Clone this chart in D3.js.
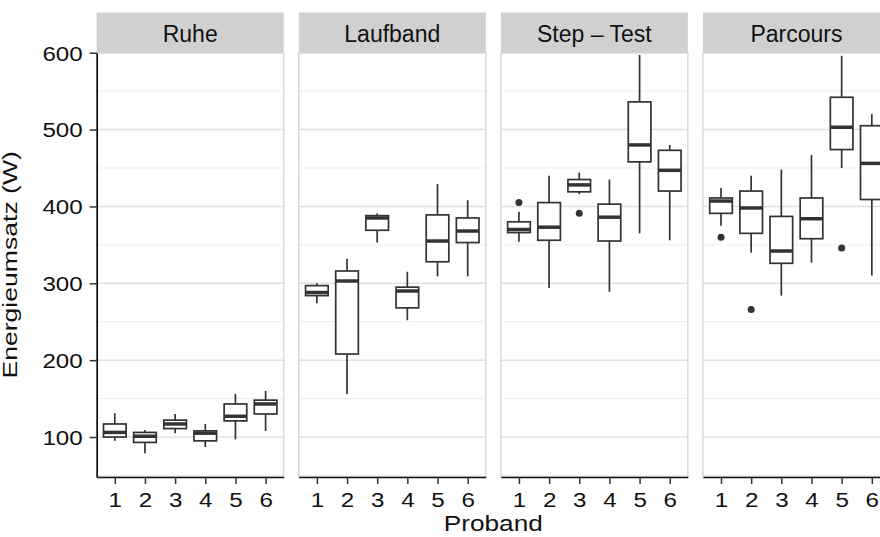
<!DOCTYPE html>
<html>
<head>
<meta charset="utf-8">
<script src="https://cdn.jsdelivr.net/npm/d3@7"></script>
<style>
  body { margin: 0; background: #fff; }
  text { font-family: "Liberation Sans", Arial, sans-serif; fill: #111; }
</style>
</head>
<body>
<svg id="chart" width="880" height="537"></svg>
<script>
const conditions = ["Ruhe", "Laufband", "Step – Test", "Parcours"];
const probands = ["1", "2", "3", "4", "5", "6"];

// [lower whisker, Q1, median, Q3, upper whisker] for each proband
const ruhe = [
  [95, 100, 106, 117, 131],
  [79, 93, 101, 106, 109],
  [105, 111, 117, 122, 130],
  [87, 95, 105, 108, 117],
  [97, 121, 127, 143, 156],
  [108, 130, 143, 148, 160],
];
const laufband = [
  [274, 284, 288, 297, 300],
  [156, 208, 303, 316, 332],
  [353, 369, 385, 388, 391],
  [252, 268, 290, 295, 315],
  [309, 328, 355, 389, 429],
  [309, 353, 368, 385, 408],
];
const stepTest = [
  [354, 366, 370, 380, 393],
  [294, 356, 373, 405, 440],
  [416, 419, 428, 435, 444],
  [289, 355, 386, 403, 435],
  [365, 458, 480, 536, 597],
  [356, 420, 447, 473, 480],
];
const parcours = [
  [375, 391, 407, 411, 424],
  [340, 365, 398, 420, 440],
  [284, 326, 342, 387, 448],
  [327, 358, 384, 411, 467],
  [450, 474, 503, 542, 596],
  [310, 409, 456, 505, 520],
];
const outliers = [
  { condition: "Step – Test", proband: "1", value: 405 },
  { condition: "Step – Test", proband: "3", value: 391 },
  { condition: "Parcours", proband: "1", value: 360 },
  { condition: "Parcours", proband: "2", value: 266 },
  { condition: "Parcours", proband: "5", value: 346 },
];
const yTicks = [100, 200, 300, 400, 500, 600];
const yMinor = [50, 150, 250, 350, 450, 550];

const stats = [ruhe, laufband, stepTest, parcours];

const svg = d3.select("#chart"),
  left0 = 96.7,
  panelWidth = 187,
  panelStep = 202.07,
  panelTop = 52.7,
  panelBottom = 477,
  stripTop = 12.5,
  ink = "#333333";

const y = d3.scaleLinear().domain([48, 600]).range([panelBottom, panelTop]);
const x = d3.scalePoint().domain(probands).range([0, panelWidth]).padding(0.6);
const boxWidth = x.step() * 0.75;

conditions.forEach((cond, i) => {
  const g = svg.append("g").attr("transform", `translate(${left0 + i * panelStep},0)`);

  g.append("rect")
    .attr("y", panelTop)
    .attr("width", panelWidth)
    .attr("height", panelBottom - panelTop)
    .attr("fill", "#fff");

  // grid
  g.selectAll(".minor")
    .data(yMinor)
    .enter()
    .append("line")
    .attr("x2", panelWidth)
    .attr("y1", (d) => y(d))
    .attr("y2", (d) => y(d))
    .attr("stroke", "#eeeeee")
    .attr("stroke-width", 1);
  g.selectAll(".major")
    .data(yTicks)
    .enter()
    .append("line")
    .attr("x2", panelWidth)
    .attr("y1", (d) => y(d))
    .attr("y2", (d) => y(d))
    .attr("stroke", "#e0e0e0")
    .attr("stroke-width", 1.5);

  // panel border
  g.append("rect")
    .attr("y", panelTop)
    .attr("width", panelWidth)
    .attr("height", panelBottom - panelTop)
    .attr("fill", "none")
    .attr("stroke", "#d9d9d9")
    .attr("stroke-width", 1.5);

  // strip
  g.append("rect")
    .attr("y", stripTop)
    .attr("width", panelWidth)
    .attr("height", panelTop - stripTop)
    .attr("fill", "#d0d0d0");
  g.append("text")
    .attr("x", panelWidth / 2)
    .attr("y", 41.5)
    .attr("text-anchor", "middle")
    .attr("font-size", 23)
    .text(cond);

  // boxes
  const box = g.selectAll(".box")
    .data(stats[i].map((s, j) => ({ p: probands[j], s })))
    .enter()
    .append("g")
    .attr("transform", (d) => `translate(${x(d.p)},0)`);

  box.append("line")
    .attr("y1", (d) => y(d.s[0]))
    .attr("y2", (d) => y(d.s[1]))
    .attr("stroke", ink)
    .attr("stroke-width", 1.7);
  box.append("line")
    .attr("y1", (d) => y(d.s[3]))
    .attr("y2", (d) => y(d.s[4]))
    .attr("stroke", ink)
    .attr("stroke-width", 1.7);
  box.append("rect")
    .attr("x", -boxWidth / 2)
    .attr("width", boxWidth)
    .attr("y", (d) => y(d.s[3]))
    .attr("height", (d) => y(d.s[1]) - y(d.s[3]))
    .attr("fill", "#fff")
    .attr("stroke", ink)
    .attr("stroke-width", 1.7);
  box.append("line")
    .attr("x1", -boxWidth / 2)
    .attr("x2", boxWidth / 2)
    .attr("y1", (d) => y(d.s[2]))
    .attr("y2", (d) => y(d.s[2]))
    .attr("stroke", ink)
    .attr("stroke-width", 3.5);

  g.selectAll(".out")
    .data(outliers.filter((o) => o.condition === cond))
    .enter()
    .append("circle")
    .attr("cx", (d) => x(d.proband))
    .attr("cy", (d) => y(d.value))
    .attr("r", 3.5)
    .attr("fill", ink);

  // x axis
  const xa = g.append("g")
    .attr("transform", `translate(0,${panelBottom})`)
    .call(d3.axisBottom(x).tickSize(7).tickSizeOuter(0));
  xa.select(".domain").attr("stroke", "#111").attr("stroke-width", 1.7);
  xa.selectAll(".tick line").attr("stroke", ink).attr("stroke-width", 1.5);
  xa.selectAll("text")
    .attr("y", 0)
    .attr("dy", null)
    .attr("font-size", 21)
    .attr("font-family", null)
    .attr("fill", null)
    .attr("transform", "translate(0,30) scale(1.15,1)");
});

// y axis on the first panel
const ya = svg.append("g")
  .attr("transform", `translate(${left0},0)`)
  .call(d3.axisLeft(y).tickValues(yTicks).tickSize(7).tickSizeOuter(0));
ya.select(".domain").attr("stroke", "#111").attr("stroke-width", 1.7);
ya.selectAll(".tick line").attr("stroke", ink).attr("stroke-width", 1.5);
ya.selectAll("text")
  .attr("x", 0)
  .attr("dy", "0.35em")
  .attr("font-size", 21)
  .attr("font-family", null)
  .attr("fill", null)
  .attr("transform", "translate(-14,0) scale(1.15,1)");

// axis titles
svg.append("text")
  .attr("text-anchor", "middle")
  .attr("font-size", 22)
  .attr("transform", `translate(${left0 + (3 * panelStep + panelWidth) / 2},531) scale(1.19,1)`)
  .text("Proband");

svg.append("text")
  .attr("text-anchor", "middle")
  .attr("font-size", 20)
  .attr("transform", `translate(17,${(panelTop + panelBottom) / 2}) rotate(-90) scale(1.33,1)`)
  .text("Energieumsatz (W)");
</script>
</body>
</html>
